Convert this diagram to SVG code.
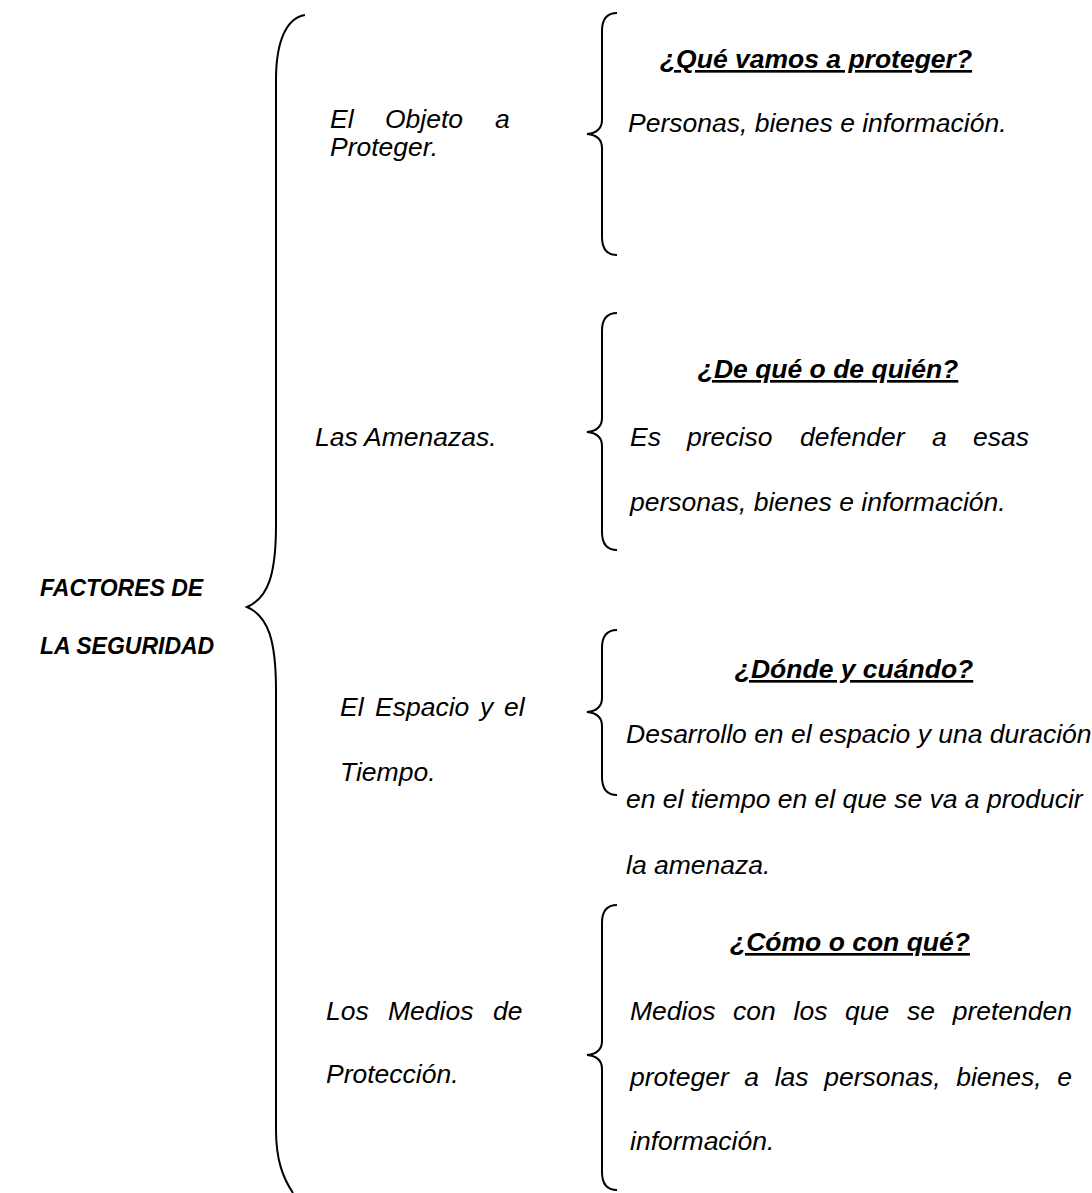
<svg xmlns="http://www.w3.org/2000/svg" width="1092" height="1193" viewBox="0 0 1092 1193">
<style>
text{font-family:"Liberation Sans",Arial,sans-serif;font-style:italic;fill:#000}
.b{font-size:26.5px}
.h{font-size:26.5px;font-weight:bold;text-decoration:underline}
.t{font-size:23px;font-weight:bold}
.br{fill:none;stroke:#000;stroke-width:2}
</style>
<rect width="1092" height="1193" fill="#fff"/>
<g id="connectors">
<path class="br" d="M305,15 C287,18 276,40 276,80 L276,525 C276,575 268,598 247,607 C268,616 276,640 276,690 L276,1130 C276,1160 283,1178 293,1193"/>
<path class="br" d="M617,13 C607,13 602,19 602,31 L602,120 C602,129 597,133 587,134 C597,135 602,139 602,148 L602,237 C602,249 607,255 617,255"/>
<path class="br" d="M617,313 C607,313 602,319 602,331 L602,418 C602,427 597,431 587,432 C597,433 602,437 602,446 L602,532 C602,544 607,550 617,550"/>
<path class="br" d="M617,630 C607,630 602,636 602,648 L602,698 C602,707 597,711 587,712 C597,713 602,717 602,726 L602,777 C602,789 607,795 617,795"/>
<path class="br" d="M617,905 C607,905 602,911 602,923 L602,1041 C602,1050 597,1054 587,1055 C597,1056 602,1060 602,1069 L602,1172 C602,1184 607,1190 617,1190"/>
</g>
<g id="root">
<text class="t" x="40" y="596">FACTORES DE</text>
<text class="t" x="40" y="654">LA SEGURIDAD</text>
</g>
<g id="objeto">
<text class="b" y="128"><tspan x="330">El</tspan><tspan x="385">Objeto</tspan><tspan x="495">a</tspan></text>
<text class="b" x="330" y="156">Proteger.</text>
</g>
<g id="amenazas">
<text class="b" x="315" y="446">Las Amenazas.</text>
</g>
<g id="espacio">
<text class="b" y="716"><tspan x="340">El</tspan><tspan x="375">Espacio</tspan><tspan x="480">y</tspan><tspan x="504">el</tspan></text>
<text class="b" x="340" y="781">Tiempo.</text>
</g>
<g id="medios">
<text class="b" y="1020"><tspan x="326">Los</tspan><tspan x="388">Medios</tspan><tspan x="493">de</tspan></text>
<text class="b" x="326" y="1083">Protección.</text>
</g>
<g id="q1">
<text class="h" x="816" y="68" text-anchor="middle">¿Qué vamos a proteger?</text>
<text class="b" x="628" y="132">Personas, bienes e información.</text>
</g>
<g id="q2">
<text class="h" x="828" y="378" text-anchor="middle">¿De qué o de quién?</text>
<text class="b" y="446"><tspan x="630">Es</tspan><tspan x="687">preciso</tspan><tspan x="800">defender</tspan><tspan x="932">a</tspan><tspan x="973">esas</tspan></text>
<text class="b" x="630" y="511">personas, bienes e información.</text>
</g>
<g id="q3">
<text class="h" x="854" y="678" text-anchor="middle">¿Dónde y cuándo?</text>
<text class="b" x="626" y="743">Desarrollo en el espacio y una duración</text>
<text class="b" x="626" y="808">en el tiempo en el que se va a producir</text>
<text class="b" x="626" y="874">la amenaza.</text>
</g>
<g id="q4">
<text class="h" x="850" y="951" text-anchor="middle">¿Cómo o con qué?</text>
<text class="b" y="1020"><tspan x="630">Medios</tspan><tspan x="733">con</tspan><tspan x="793.5">los</tspan><tspan x="845">que</tspan><tspan x="907">se</tspan><tspan x="952.7">pretenden</tspan></text>
<text class="b" y="1086"><tspan x="630">proteger</tspan><tspan x="744.3">a</tspan><tspan x="774.7">las</tspan><tspan x="824.2">personas,</tspan><tspan x="956.2">bienes,</tspan><tspan x="1057.3">e</tspan></text>
<text class="b" x="630" y="1150">información.</text>
</g>
</svg>
